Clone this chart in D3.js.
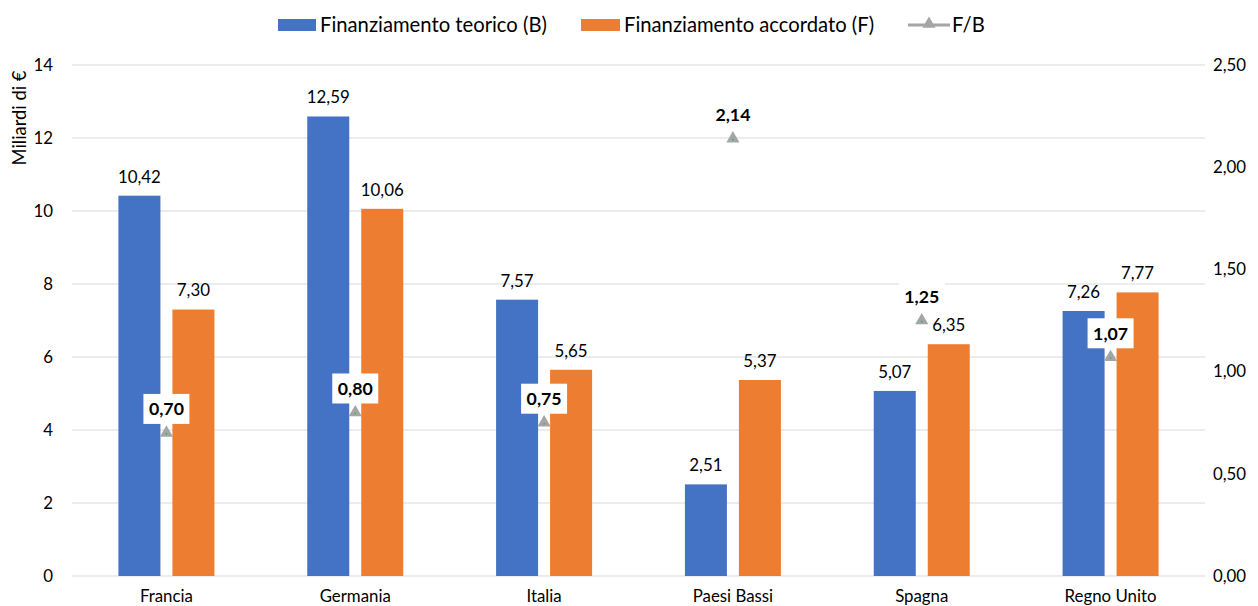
<!DOCTYPE html>
<html><head><meta charset="utf-8">
<script src="https://cdn.jsdelivr.net/npm/d3@7"></script>
<style>
html,body{margin:0;padding:0;background:#fff;}
text{font-family:Lato, "Open Sans", sans-serif;fill:#000;}
</style></head>
<body>
<svg id="c" width="1258" height="606"></svg>
<script>
const categories = ["Francia","Germania","Italia","Paesi Bassi","Spagna","Regno Unito"];
const teorico = [10.42,12.59,7.57,2.51,5.07,7.26];
const accordato = [7.30,10.06,5.65,5.37,6.35,7.77];
const ratio = [0.70,0.80,0.75,2.14,1.25,1.07];
const leftTicks = [0,2,4,6,8,10,12,14];
const rightTicks = [0,0.5,1,1.5,2,2.5];
const seriesNames = ["Finanziamento teorico (B)","Finanziamento accordato (F)","F/B"];
const colors = {b:"#4472c4", f:"#ed7d31", r:"#a5a5a5"};

const svg = d3.select("#c");
const m = {l:72, r:1205, t:65, b:576};
const fmt2 = v => v.toFixed(2).replace(".", ",");

// font size fitted so that a sample string reaches a given width
function fit(str, target, weight){
  const t = svg.append("text").attr("font-size",20).attr("font-weight",weight||"normal").text(str);
  const w = t.node().getComputedTextLength();
  t.remove();
  return 20*target/w;
}
const fsTick = fit("Regno Unito", 92);
const fsLab = fit("10,42", 43);
const fsBold = fit("0,70", 35, "bold");
const fsLeg = fit(seriesNames[0], 227);
const fsTitle = fit("Miliardi di €", 95);

const x = d3.scaleBand().domain(categories).range([m.l, m.r]);
const y = d3.scaleLinear().domain([0,14]).range([m.b, m.t]);
const y2 = d3.scaleLinear().domain([0,2.5]).range([m.b, m.t]);

// gridlines
svg.append("g").selectAll("line").data(leftTicks).join("line")
  .attr("x1", m.l).attr("x2", m.r)
  .attr("y1", d=>y(d)).attr("y2", d=>y(d))
  .attr("stroke", "#d9d9d9").attr("stroke-width", 1);

// left axis
const ax = svg.append("g").attr("transform", `translate(${m.l-16},0)`)
  .call(d3.axisLeft(y).tickValues(leftTicks).tickSize(0).tickFormat(d=>d));
ax.select(".domain").remove();
ax.selectAll("text").attr("font-size", fsTick).attr("font-family","Lato, sans-serif").attr("fill","#000");

// right axis
const ax2 = svg.append("g").attr("transform", `translate(${m.r+5},0)`)
  .call(d3.axisRight(y2).tickValues(rightTicks).tickSize(0).tickFormat(fmt2));
ax2.select(".domain").remove();
ax2.selectAll("text").attr("font-size", fsTick).attr("font-family","Lato, sans-serif").attr("fill","#000");

// x axis labels
const axx = svg.append("g").attr("transform", `translate(0,${m.b})`)
  .call(d3.axisBottom(x).tickSize(0));
axx.select(".domain").remove();
axx.selectAll("text").attr("font-size", fsTick).attr("font-family","Lato, sans-serif").attr("fill","#000")
  .attr("y", 26).attr("dy", "0");

// y title
svg.append("text").attr("transform", `translate(20,118) rotate(-90)`)
  .attr("text-anchor","middle").attr("dy","0.35em").attr("font-size", fsTitle).text("Miliardi di €");

const bw = 42, gap = 6;
const cx = d => x(d) + x.bandwidth()/2;

// bars
svg.append("g").selectAll("rect").data(categories).join("rect")
  .attr("x", (d)=>cx(d)-gap-bw).attr("width", bw)
  .attr("y", (d,i)=>y(teorico[i])).attr("height", (d,i)=>y(0)-y(teorico[i]))
  .attr("fill", colors.b);
svg.append("g").selectAll("rect").data(categories).join("rect")
  .attr("x", (d)=>cx(d)+gap).attr("width", bw)
  .attr("y", (d,i)=>y(accordato[i])).attr("height", (d,i)=>y(0)-y(accordato[i]))
  .attr("fill", colors.f);

// bar labels
svg.append("g").selectAll("text").data(categories).join("text")
  .attr("x", d=>cx(d)-gap-bw/2).attr("y", (d,i)=>y(teorico[i])-19).attr("dy","0.35em")
  .attr("text-anchor","middle").attr("font-size", fsLab).text((d,i)=>fmt2(teorico[i]));
svg.append("g").selectAll("text").data(categories).join("text")
  .attr("x", d=>cx(d)+gap+bw/2).attr("y", (d,i)=>y(accordato[i])-19).attr("dy","0.35em")
  .attr("text-anchor","middle").attr("font-size", fsLab).text((d,i)=>fmt2(accordato[i]));

// ratio markers
const tri = d3.symbol().type(d3.symbolTriangle).size(75);
const mk = svg.append("g");
mk.selectAll("path").data(categories).join("path")
  .attr("d", tri).attr("transform", (d,i)=>`translate(${cx(d)},${y2(ratio[i])})`)
  .attr("fill", colors.r);
mk.selectAll("circle").data(categories).join("circle")
  .attr("cx", d=>cx(d)).attr("cy",(d,i)=>y2(ratio[i])+1).attr("r",0.8).attr("fill","#22b14c");

// ratio labels with white box
const rl = svg.append("g").selectAll("g").data(categories).join("g")
  .attr("transform", (d,i)=>`translate(${cx(d)},${y2(ratio[i])-24})`);
rl.append("rect").attr("x",-23).attr("y",-15).attr("width",46).attr("height",30).attr("fill","#fff");
rl.append("text").attr("text-anchor","middle").attr("dy","0.35em")
  .attr("font-size", fsBold).attr("font-weight","bold").text((d,i)=>fmt2(ratio[i]));

// legend
const lg = svg.append("g");
lg.append("rect").attr("x",278).attr("y",19).attr("width",38).attr("height",12).attr("fill",colors.b);
lg.append("text").attr("x",320).attr("y",25).attr("dy","0.35em").attr("font-size",fsLeg).text(seriesNames[0]);
lg.append("rect").attr("x",581).attr("y",19).attr("width",39).attr("height",12).attr("fill",colors.f);
lg.append("text").attr("x",624).attr("y",25).attr("dy","0.35em").attr("font-size",fsLeg).text(seriesNames[1]);
lg.append("line").attr("x1",908).attr("x2",950).attr("y1",25).attr("y2",25).attr("stroke",colors.r).attr("stroke-width",3);
lg.append("path").attr("d", tri).attr("transform","translate(929,24)").attr("fill",colors.r);
lg.append("text").attr("x",952).attr("y",25).attr("dy","0.35em").attr("font-size",fsLeg).text(seriesNames[2]);
</script>
</body></html>
